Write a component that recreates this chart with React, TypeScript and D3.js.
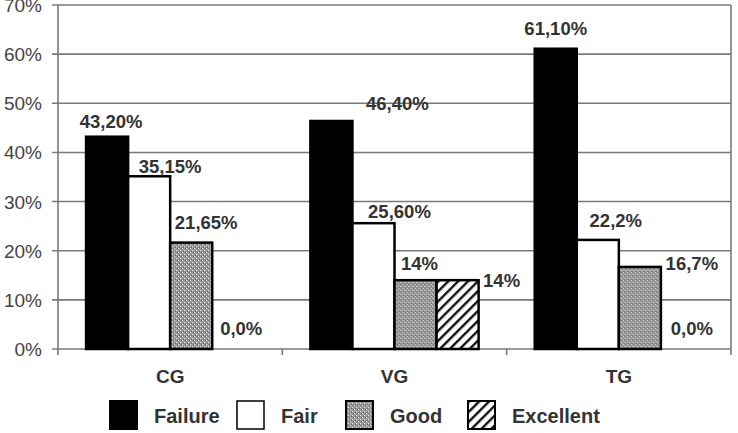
import React from "react";
import * as d3 from "d3";

// 데이터
const groups = ["CG", "VG", "TG"];
const series = ["Failure", "Fair", "Good", "Excellent"];
const failure = [43.2, 46.4, 61.1];
const fair = [35.15, 25.6, 22.2];
const good = [21.65, 14, 16.7];
const excellent = [0, 14, 0];
const labels = [
	["43,20%", "35,15%", "21,65%", "0,0%"],
	["46,40%", "25,60%", "14%", "14%"],
	["61,10%", "22,2%", "16,7%", "0,0%"],
];
const yTicks = [0, 10, 20, 30, 40, 50, 60, 70];

// 레이블 위치 보정 (막대 위 중앙 기준 dx, dy)
const labelNudge = [
	[[4, -9], [21, -3], [15, -14], [8, -14]],
	[[66, -11], [26, -5], [4, -10], [44, 7]],
	[[0, -14], [18, -13], [52, 3], [10, -14]],
];

const W = 738;
const H = 433;
const M = { left: 58, right: 7, top: 5, bottom: 84 };

export default function App() {
	const values = [failure, fair, good, excellent];
	const x0 = d3.scaleBand().domain(groups).range([M.left, W - M.right]).paddingInner(0).paddingOuter(0);
	const x1 = d3.scaleBand().domain(series).range([0, x0.bandwidth()]).paddingOuter(0.667);
	const y = d3.scaleLinear().domain([0, 70]).range([H - M.bottom, M.top]);
	const fills = ["#000", "#fff", "url(#stipple)", "url(#hatch)"];
	const font = "Arial, 'Liberation Sans', sans-serif";
	const grid = "#7a7a7a";
	const x1w = x1.bandwidth();

	return (
		<svg width={W} height={H} style={{ position: "absolute", left: 0, top: 0 }}>
			<defs>
				<pattern id="stipple" width={4} height={4} patternUnits="userSpaceOnUse">
					<rect width={4} height={4} fill="#9a9a9a" />
					<rect x={0} y={0} width={1} height={1} fill="#e8e8e8" />
					<rect x={2} y={2} width={1} height={1} fill="#e0e0e0" />
					<rect x={3} y={0} width={1} height={1} fill="#555" />
					<rect x={1} y={3} width={1} height={1} fill="#666" />
				</pattern>
				<pattern id="hatch" width={7} height={7} patternUnits="userSpaceOnUse" patternTransform="rotate(45)">
					<rect width={7} height={7} fill="#fff" />
					<rect x={0} y={0} width={2.4} height={7} fill="#111" />
				</pattern>
			</defs>
			<rect width={W} height={H} fill="#fff" />
			{/* 그리드 */}
			{yTicks.map((t) => (
				<g key={t}>
					<line x1={M.left - 6} x2={W - M.right} y1={y(t)} y2={y(t)} stroke={grid} strokeWidth={1.6} />
					<text x={M.left - 16} y={y(t) + 7} textAnchor="end" fontFamily={font} fontSize={19} fill="#444">
						{t}%
					</text>
				</g>
			))}
			<line x1={W - M.right} x2={W - M.right} y1={y(70)} y2={y(0)} stroke={grid} strokeWidth={1.6} />
			<line x1={M.left} x2={M.left} y1={y(70)} y2={y(0) + 6} stroke={grid} strokeWidth={1.6} />
			{groups.map((g) => (
				<line key={g} x1={x0(g)! + x0.bandwidth()} x2={x0(g)! + x0.bandwidth()} y1={y(0)} y2={y(0) + 6} stroke={grid} strokeWidth={1.6} />
			))}
			{/* 막대 */}
			{groups.map((g, gi) => (
				<g key={g} transform={`translate(${x0(g)},0)`}>
					{series.map((s, si) => {
						const v = values[si][gi];
						if (v <= 0) return null;
						return (
							<rect
								key={s}
								x={x1(s)}
								y={y(v)}
								width={x1w}
								height={y(0) - y(v)}
								fill={fills[si]}
								stroke="#000"
								strokeWidth={2.5}
							/>
						);
					})}
					{series.map((s, si) => {
						const v = values[si][gi];
						const [dx, dy] = labelNudge[gi][si];
						return (
							<text
								key={s + "l"}
								x={x1(s)! + x1w / 2 + dx}
								y={y(v) + dy}
								textAnchor="middle"
								fontFamily={font}
								fontWeight="bold"
								fontSize={18.5}
								fill="#333"
							>
								{labels[gi][si]}
							</text>
						);
					})}
					<text x={x0.bandwidth() / 2} y={y(0) + 34} textAnchor="middle" fontFamily={font} fontWeight="bold" fontSize={19} fill="#333">
						{g}
					</text>
				</g>
			))}
			{/* 범례 */}
			{series.map((s, si) => {
				const lx = [110, 237, 346, 468][si];
				return (
					<g key={s} transform={`translate(${lx},401)`}>
						<rect width={27} height={28} fill={fills[si]} stroke="#000" strokeWidth={si === 1 ? 1.5 : 2} />
						<text x={44} y={22} fontFamily={font} fontWeight="bold" fontSize={20} fill="#333">
							{s}
						</text>
					</g>
				);
			})}
		</svg>
	);
}
